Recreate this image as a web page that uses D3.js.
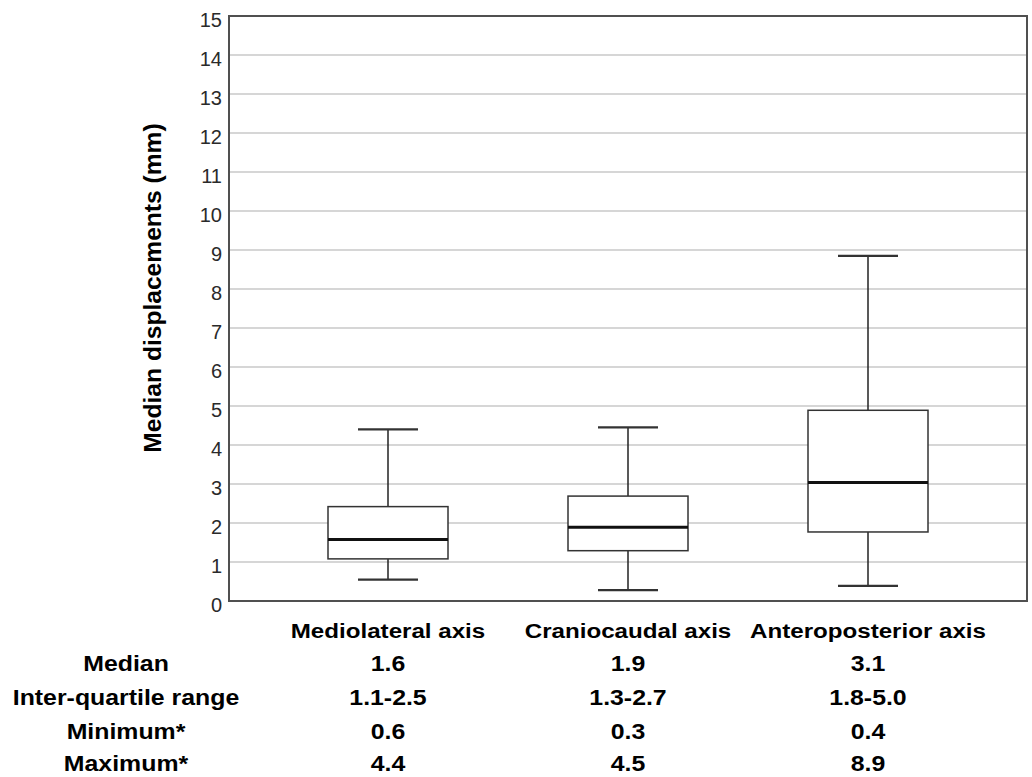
<!DOCTYPE html>
<html>
<head>
<meta charset="utf-8">
<script src="https://cdn.jsdelivr.net/npm/d3@7"></script>
<style>
  body { margin: 0; background: #fff; }
  svg { font-family: "Liberation Sans", Arial, sans-serif; }
</style>
</head>
<body>
<div id="chart"></div>
<script>
// box plot values (mm)
const categories = ["Mediolateral axis", "Craniocaudal axis", "Anteroposterior axis"];
const whiskerLow = [0.55, 0.28, 0.39];
const q1 = [1.08, 1.29, 1.77];
const median = [1.58, 1.89, 3.04];
const q3 = [2.42, 2.69, 4.89];
const whiskerHigh = [4.40, 4.45, 8.85];

const yTicks = d3.range(0, 16);

// summary table under the chart
const rowLabels = ["Median", "Inter-quartile range", "Minimum*", "Maximum*"];
const tableValues = [
    ["1.6", "1.9", "3.1"],
    ["1.1-2.5", "1.3-2.7", "1.8-5.0"],
    ["0.6", "0.3", "0.4"],
    ["4.4", "4.5", "8.9"]
];

const W = 1032, H = 777;
const margin = { top: 16, right: 5, bottom: 176, left: 229 };
const width = W - margin.left - margin.right;
const height = H - margin.top - margin.bottom;

const svg = d3.select("#chart").append("svg")
    .attr("width", W)
    .attr("height", H);

const g = svg.append("g")
    .attr("transform", "translate(" + margin.left + "," + margin.top + ")");

const x = d3.scaleBand()
    .domain(categories)
    .range([0, width])
    .paddingInner(0)
    .paddingOuter(0.1625);

const y = d3.scaleLinear()
    .domain([0, 15])
    .range([height, 0]);

// grid lines
g.append("g")
    .selectAll("line")
    .data(yTicks.filter(d => d > 0 && d < 15))
    .enter().append("line")
    .attr("x1", 0)
    .attr("x2", width)
    .attr("y1", d => y(d))
    .attr("y2", d => y(d))
    .attr("stroke", "#c8c8c8")
    .attr("stroke-width", 1.5);

// y axis labels
const yAxis = g.append("g")
    .call(d3.axisLeft(y).tickValues(yTicks).tickSize(0).tickPadding(7));
yAxis.select(".domain").remove();
yAxis.selectAll("text")
    .attr("font-size", 20)
    .attr("font-family", "Liberation Sans, Arial, sans-serif")
    .attr("fill", "#2a2a2a")
    .attr("dy", "0.5em");

// frame
g.append("rect")
    .attr("x", 0)
    .attr("y", 0)
    .attr("width", width)
    .attr("height", height)
    .attr("fill", "none")
    .attr("stroke", "#505050")
    .attr("stroke-width", 2);

// boxes
const data = categories.map((c, i) => ({
    cat: c, lo: whiskerLow[i], q1: q1[i], med: median[i], q3: q3[i], hi: whiskerHigh[i]
}));

const boxW = x.bandwidth() * 0.5;
const capW = x.bandwidth() * 0.25;

const box = g.selectAll(".box")
    .data(data)
    .enter().append("g")
    .attr("class", "box")
    .attr("transform", d => "translate(" + (x(d.cat) + x.bandwidth() / 2) + ",0)");

box.append("line")
    .attr("x1", 0).attr("x2", 0)
    .attr("y1", d => y(d.hi))
    .attr("y2", d => y(d.q3))
    .attr("stroke", "#222")
    .attr("stroke-width", 1.5);

box.append("line")
    .attr("x1", 0).attr("x2", 0)
    .attr("y1", d => y(d.q1))
    .attr("y2", d => y(d.lo))
    .attr("stroke", "#222")
    .attr("stroke-width", 1.5);

box.append("line")
    .attr("x1", -capW / 2).attr("x2", capW / 2)
    .attr("y1", d => y(d.hi))
    .attr("y2", d => y(d.hi))
    .attr("stroke", "#333")
    .attr("stroke-width", 2.2);

box.append("line")
    .attr("x1", -capW / 2).attr("x2", capW / 2)
    .attr("y1", d => y(d.lo))
    .attr("y2", d => y(d.lo))
    .attr("stroke", "#333")
    .attr("stroke-width", 2.2);

box.append("rect")
    .attr("x", -boxW / 2)
    .attr("width", boxW)
    .attr("y", d => y(d.q3))
    .attr("height", d => y(d.q1) - y(d.q3))
    .attr("fill", "#fff")
    .attr("stroke", "#333")
    .attr("stroke-width", 1.5);

box.append("line")
    .attr("x1", -boxW / 2).attr("x2", boxW / 2)
    .attr("y1", d => y(d.med))
    .attr("y2", d => y(d.med))
    .attr("stroke", "#111")
    .attr("stroke-width", 3);

// y axis title (slightly stretched along its length like the original)
svg.append("text")
    .attr("transform", "translate(161," + (margin.top + 272) + ") rotate(-90) scale(1.07,1)")
    .attr("text-anchor", "middle")
    .attr("font-size", 23)
    .attr("font-weight", "bold")
    .attr("fill", "#000")
    .text("Median displacements (mm)");

// table text is wider than plain Arial in the original, so stretch it a bit
const stretch = 1.13;

const table = svg.append("g")
    .attr("font-weight", "bold")
    .attr("fill", "#000")
    .attr("text-anchor", "middle");

const colX = c => margin.left + x(c) + x.bandwidth() / 2;

table.selectAll(".cat")
    .data(categories)
    .enter().append("text")
    .attr("class", "cat")
    .attr("transform", d => "translate(" + colX(d) + ",638) scale(" + 1.15 + ",1)")
    .attr("font-size", 21)
    .text(d => d);

const rowY = [671, 705, 739, 771];

table.selectAll(".rowlab")
    .data(rowLabels)
    .enter().append("text")
    .attr("class", "rowlab")
    .attr("transform", (d, i) => "translate(126," + rowY[i] + ") scale(" + stretch + ",1)")
    .attr("font-size", 22)
    .text(d => d);

tableValues.forEach((row, r) => {
    table.selectAll(".v" + r)
        .data(row)
        .enter().append("text")
        .attr("class", "v" + r)
        .attr("transform", (d, i) => "translate(" + colX(categories[i]) + "," + rowY[r] + ") scale(" + stretch + ",1)")
        .attr("font-size", 22)
        .text(d => d);
});
</script>
</body>
</html>
